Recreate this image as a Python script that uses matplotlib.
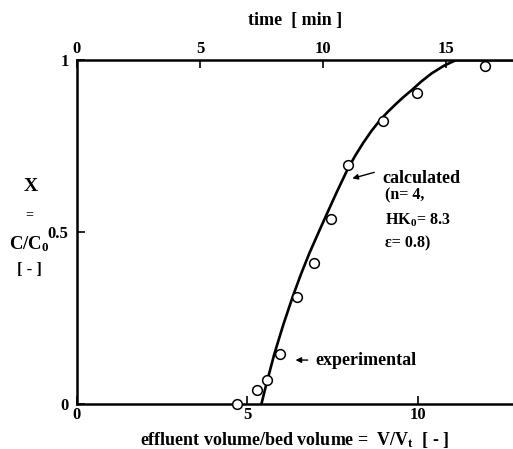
import numpy as np
import matplotlib
matplotlib.use("Agg")
import matplotlib.pyplot as plt

plt.rcParams['font.family'] = 'Liberation Serif'
plt.rcParams['font.weight'] = 'bold'
plt.rcParams['mathtext.fontset'] = 'custom'
plt.rcParams['mathtext.rm'] = 'Liberation Serif:bold'
plt.rcParams['mathtext.it'] = 'Liberation Serif:bold'
plt.rcParams['mathtext.bf'] = 'Liberation Serif:bold'

# measured breakthrough points
exp_v = [4.68, 5.29, 5.58, 5.96, 6.46, 6.96, 7.46, 7.95, 8.98, 9.97, 11.96]
exp_x = [0.0, 0.041, 0.070, 0.146, 0.312, 0.411, 0.539, 0.694, 0.822, 0.904, 0.983]

# calculated curve (n=4, HK0=8.3, eps=0.8)
calc_v = [5.41, 5.56, 5.79, 6.05, 6.32, 6.56, 6.81, 7.05, 7.28, 7.60, 7.92, 8.16, 8.40, 8.63,
          8.86, 9.10, 9.35, 9.58, 9.82, 10.10, 10.41, 10.75, 11.11, 12.8]
calc_x = [0.0, 0.06, 0.146, 0.23, 0.31, 0.375, 0.437, 0.491, 0.542, 0.612, 0.679, 0.722, 0.76, 0.793,
          0.822, 0.848, 0.872, 0.893, 0.913, 0.938, 0.962, 0.983, 1.0, 1.0]

vmax = 12.79
min_per_bv = 1.386  # time [min] per bed volume

fig = plt.figure(figsize=(5.13, 4.49), dpi=100)
ax = fig.add_axes([0.150, 0.100, 0.850, 0.766])

ax.plot(calc_v, calc_x, color='black', lw=1.9, zorder=3, solid_joinstyle='round')
ax.plot(exp_v, exp_x, 'o', mfc='white', mec='black', ms=7, mew=1.1, zorder=4, clip_on=False)

ax.set_xlim(0, vmax)
ax.set_ylim(0, 1)
ax.set_xticks([0, 5, 10])
ax.set_yticks([0, 0.5, 1])
ax.set_yticklabels(['0', '0.5', '1'])
ax.tick_params(direction='in', length=6, width=1.2, labelsize=12, pad=2)
ax.tick_params(axis='y', pad=6)
for lbl in ax.get_xticklabels() + ax.get_yticklabels():
    lbl.set_fontweight('bold')
for s in ['left', 'bottom', 'top']:
    ax.spines[s].set_linewidth(1.8)
ax.spines['right'].set_visible(False)

ax.set_xlabel(r'effluent volume/bed volume =  V/V$_t$  [ - ]', fontsize=13, fontweight='bold', labelpad=5)

# time axis on top
ax2 = ax.twiny()
ax2.set_xlim(0, vmax * min_per_bv)
ax2.set_xticks([0, 5, 10, 15])
ax2.tick_params(direction='in', length=6, width=1.2, labelsize=12, pad=2)
for lbl in ax2.get_xticklabels():
    lbl.set_fontweight('bold')
for s in ['left', 'bottom', 'top', 'right']:
    ax2.spines[s].set_visible(False)
ax2.set_xlabel('time  [ min ]', fontsize=13, fontweight='bold', labelpad=12)

# y label stacked
fig.text(31 / 513, 1 - 187 / 449, 'X', ha='center', va='center', fontsize=14, fontweight='bold')
fig.text(29 / 513, 1 - 215 / 449, '=', ha='center', va='center', fontsize=10, fontweight='bold')
fig.text(29 / 513, 1 - 244 / 449, r'C/C$_0$', ha='center', va='center', fontsize=13.5, fontweight='bold')
fig.text(29 / 513, 1 - 270 / 449, '[ - ]', ha='center', va='center', fontsize=12, fontweight='bold')

# annotations
ax.annotate('', xy=(8.0, 0.654), xytext=(8.8, 0.676),
            arrowprops=dict(arrowstyle='-|>', color='black', lw=1.0, mutation_scale=8))
ax.text(8.97, 0.657, 'calculated', fontsize=13, fontweight='bold', va='center', ha='left')
ax.text(9.03, 0.606, '(n= 4,', fontsize=11.5, fontweight='bold', va='center', ha='left')
ax.text(9.03, 0.533, r'HK$_0$= 8.3', fontsize=11.5, fontweight='bold', va='center', ha='left')
ax.text(9.03, 0.466, 'ε= 0.8)', fontsize=11.5, fontweight='bold', va='center', ha='left')

ax.annotate('', xy=(6.33, 0.128), xytext=(6.85, 0.128),
            arrowprops=dict(arrowstyle='-|>', color='black', lw=1.0, mutation_scale=8))
ax.text(6.98, 0.128, 'experimental', fontsize=13, fontweight='bold', va='center', ha='left')

fig.savefig('out.png', dpi=100)
